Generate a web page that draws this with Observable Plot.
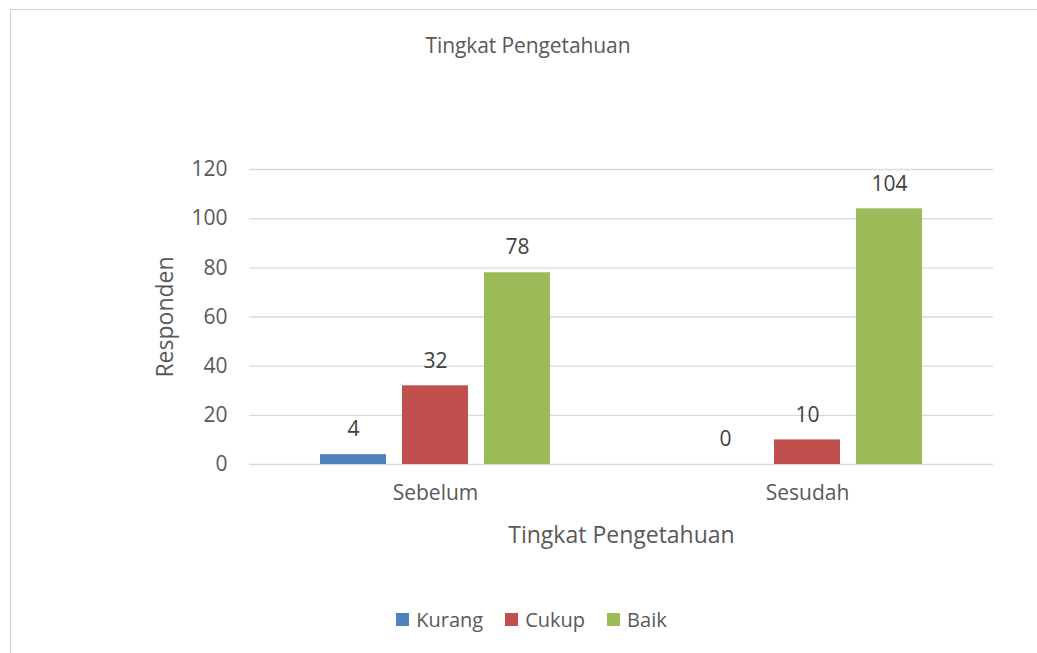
<!DOCTYPE html>
<html>
<head>
<meta charset="utf-8">
<script src="https://cdn.jsdelivr.net/npm/d3@7"></script>
<script src="https://cdn.jsdelivr.net/npm/@observablehq/plot@0.6"></script>
<style>
  html, body { margin: 0; padding: 0; background: #fff; }
  #wrap { position: relative; width: 1037px; height: 653px; overflow: hidden; font-family: "Open Sans", sans-serif; background: #fff; }
  #frame { position: absolute; left: 10px; top: 9px; width: 1100px; height: 700px; border-left: 1px solid #d0d0d0; border-top: 1px solid #d0d0d0; box-sizing: border-box; }
  #title { position: absolute; left: 0; width: 1056px; top: 31px; text-align: center; font-size: 21px; color: #595959; letter-spacing: -0.1px; }
  #chart { position: absolute; left: 0; top: 0; }
  #legend { position: absolute; left: 13px; width: 1037px; top: 606px; display: flex; justify-content: center; gap: 22px; font-size: 20px; color: #595959; }
  .item { display: flex; align-items: center; gap: 7px; }
  .sw { width: 13px; height: 13px; display: inline-block; }
</style>
</head>
<body>
<div id="wrap">
  <div id="frame"></div>
  <div id="chart"></div>
  <div id="title"></div>
  <div id="legend"></div>
</div>
<script>
const titleText = "Tingkat Pengetahuan";
const xTitle = "Tingkat Pengetahuan";
const yTitle = "Responden";
const groups = ["Sebelum", "Sesudah"];
const categories = ["Kurang", "Cukup", "Baik"];
const kurang = [4, 0];
const cukup = [32, 10];
const baik = [78, 104];
const colors = ["#4F81BD", "#C0504D", "#9BBB59"];
const yTicks = [0, 20, 40, 60, 80, 100, 120];

const seriesValues = [kurang, cukup, baik];
const data = groups.flatMap((g, i) => categories.map((c, j) => ({group: g, cat: c, value: seriesValues[j][i]})));

const plot = Plot.plot({
  width: 1037,
  height: 560,
  marginLeft: 248,
  marginRight: 44,
  marginTop: 169,
  marginBottom: 96,
  style: {fontFamily: "'Open Sans', sans-serif", color: "#595959", background: "transparent"},
  fx: {domain: groups, padding: 0},
  x: {domain: categories, paddingInner: 0.2, paddingOuter: 0.86, axis: null},
  y: {domain: [0, 120]},
  color: {domain: categories, range: colors},
  marks: [
    Plot.ruleY(yTicks, {stroke: "#d9d9d9", strokeWidth: 1.3}),
    Plot.barY(data, {fx: "group", x: "cat", y: "value", fill: "cat"}),
    Plot.text(data, {fx: "group", x: "cat", y: "value", text: d => String(d.value), dy: -25, fontSize: 21, fill: "#404040"}),
    Plot.axisY({ticks: yTicks, tickSize: 0, tickPadding: 22, fontSize: 21, fill: "#595959", label: null}),
    Plot.axisY({ticks: [], tickSize: 0, fontSize: 23, fill: "#595959", label: yTitle, labelAnchor: "center", labelArrow: "none", labelOffset: 93}),
    Plot.axisFx({anchor: "bottom", tickSize: 0, tickPadding: 21, fontSize: 21, fill: "#595959", label: null}),
    Plot.axisFx({anchor: "bottom", ticks: [], tickSize: 0, fontSize: 23, fill: "#595959", label: xTitle, labelAnchor: "center", labelArrow: "none", labelOffset: 78})
  ]
});
document.getElementById("chart").appendChild(plot);
document.getElementById("title").textContent = titleText;

const legend = document.getElementById("legend");
categories.forEach((c, i) => {
  const item = document.createElement("span");
  item.className = "item";
  const sw = document.createElement("span");
  sw.className = "sw";
  sw.style.background = colors[i];
  const t = document.createElement("span");
  t.textContent = c;
  item.appendChild(sw);
  item.appendChild(t);
  legend.appendChild(item);
});
</script>
</body>
</html>
